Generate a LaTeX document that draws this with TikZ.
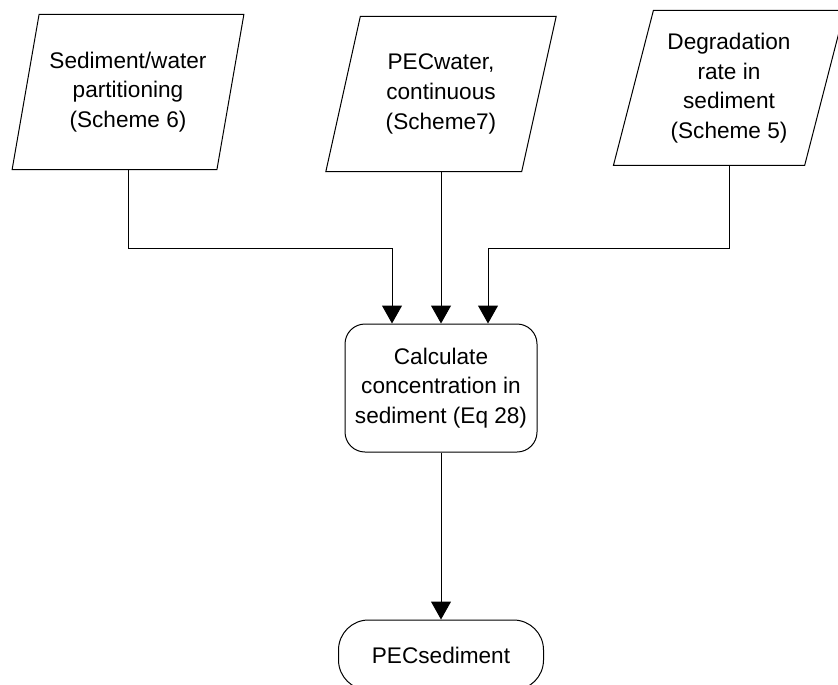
\documentclass[tikz,border=0pt]{standalone}
\usepackage{fontspec}
\setmainfont{Liberation Sans}
\usetikzlibrary{arrows.meta}
\usetikzlibrary{shapes.geometric}

\begin{document}
\begin{tikzpicture}[x=0.5pt,y=-0.5pt,line width=0.5pt,
    font=\fontsize{11.3}{14.8}\selectfont,
    inbox/.style={draw,trapezium,trapezium left angle=73.5,trapezium right angle=106.5,
      trapezium stretches=true,minimum width=116pt,minimum height=77.5pt,inner sep=0pt,align=center},
    stepbox/.style={draw,rounded corners=10pt,minimum width=96pt,minimum height=64pt,inner sep=0pt,align=center},
    endbox/.style={draw,rounded corners=15pt,minimum width=102.5pt,minimum height=35pt,inner sep=0pt},
    arr/.style={-{Triangle[length=9pt,width=10pt]}}]
                \useasboundingbox (0,0) rectangle (838,684);
                \node[inbox] (sedwat) at (128,92) {Sediment/water\\partitioning\\ (Scheme 6)};
                \node[inbox] (pecwat) at (441,94) {PECwater,\\continuous\\ (Scheme7)};
                \node[inbox] (degsed) at (729,88) {Degradation\\rate in\\sediment\\ (Scheme 5)};
                \node[stepbox] (calc) at (441,388) {Calculate\\concentration in\\sediment (Eq 28)};
                \node[endbox] (pecsed) at (441,655) {PECsediment};
                \coordinate (joinL) at (392,248);
                \coordinate (joinR) at (488,248);
                \draw[arr] (sedwat) |- (joinL) -- (joinL |- calc.north);
                \draw[arr] (pecwat.south) -- (pecwat.south |- calc.north);
                \draw[arr] (degsed) |- (joinR) -- (joinR |- calc.north);
                \draw[arr] (calc) -- (pecsed);
            \end{tikzpicture}
\end{document}
